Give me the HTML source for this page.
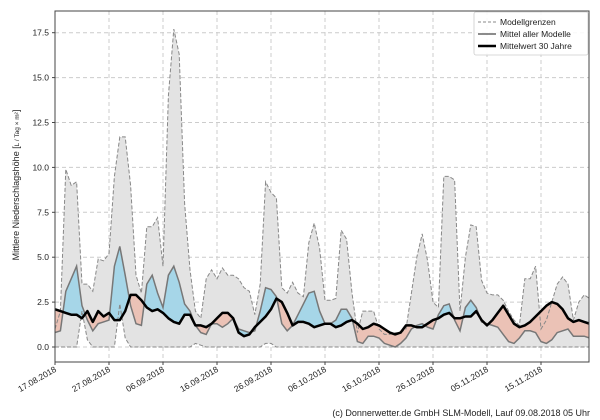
<!DOCTYPE html>
<html><head><meta charset="utf-8">
<style>
html,body{margin:0;padding:0;background:#fff;}
svg{display:block;font-family:"Liberation Sans","DejaVu Sans",sans-serif;}
</style></head>
<body>
<svg id="s" width="600" height="420" viewBox="0 0 600 420" xmlns="http://www.w3.org/2000/svg">
<rect width="600" height="420" fill="#fff"/>
<defs><clipPath id="plot"><rect x="55" y="11" width="534" height="351"/></clipPath></defs>
<g id="grid"></g>
<g id="data" clip-path="url(#plot)"></g>
<g id="axes"></g>
<g transform="translate(19,185) rotate(-90)">
<text x="0" y="0" font-size="9" fill="#222" text-anchor="middle">Mittlere Niederschlagshöhe [<tspan font-size="6.5">L / Tag × m²</tspan>]</text>
</g>
<g>
<rect x="474" y="12" width="114" height="43" fill="#fff" fill-opacity="0.85" stroke="#ccc" stroke-width="0.8" rx="2"/>
<line x1="478" y1="22" x2="496" y2="22" stroke="#888" stroke-dasharray="3,2" stroke-width="1"/>
<text x="500" y="25" font-size="8.5" fill="#222">Modellgrenzen</text>
<line x1="478" y1="34" x2="496" y2="34" stroke="#666" stroke-width="1.5"/>
<text x="500" y="37" font-size="8.5" fill="#222">Mittel aller Modelle</text>
<line x1="478" y1="46" x2="496" y2="46" stroke="#000" stroke-width="2.5"/>
<text x="500" y="49" font-size="8.5" fill="#222">Mittelwert 30 Jahre</text>
</g>
<text x="590" y="416" font-size="9" fill="#222" text-anchor="end">(c) Donnerwetter.de GmbH SLM-Modell, Lauf 09.08.2018 05 Uhr</text>
</svg>
<script>
var up=[1.0,2.0,9.9,9.0,9.2,3.5,3.5,3.1,4.9,4.8,5.2,9.5,11.7,11.7,9.0,4.0,3.0,6.7,6.7,7.2,4.5,14,17.7,16.3,8,4.3,2.0,1.6,3.8,4.3,3.8,4.4,4.0,4.0,3.8,3.3,3.1,1.8,3.5,9.2,8.6,8.3,3.3,3.0,3.6,3.0,2.8,5.8,6.9,5.5,2.6,2.6,2.7,6.5,6.0,3.0,0.8,2.0,2.0,2.0,1.0,0.7,0.7,0.8,0.8,1.0,3,5,6.3,4.8,2.5,2.2,9.5,9.5,9.3,2.0,5.0,6.8,6.7,3.7,3.0,2.9,2.9,2.6,2.0,1.5,1.2,3.8,3.8,4.5,1.0,1.5,2.5,3.5,3.9,3.5,1.5,2.5,2.9,2.7];
var lo=[];for(var i=0;i<100;i++)lo.push(0);
lo[5]=2.0;lo[6]=0.4;lo[12]=2.4;lo[13]=0.5;lo[26]=0.2;lo[27]=0.1;lo[39]=0.2;lo[40]=0.2;
var mm=[0.8,0.9,3.1,3.8,4.5,2.3,1.5,0.9,1.3,1.4,1.5,4.5,5.6,4.0,2.3,1.3,1.2,3.5,4.0,3.0,2.2,4.0,4.5,3.6,2.4,2.0,1.2,0.8,0.7,1.3,1.3,1.1,1.3,1.6,1.0,0.9,0.8,0.9,2.0,3.3,3.2,2.8,1.3,0.9,1.2,1.8,2.4,3.0,3.1,2.0,1.3,1.3,1.5,2.1,2.1,1.6,0.3,0.2,0.6,0.6,0.5,0.2,0.1,0.0,0.2,0.5,1.0,1.2,1.3,1.1,1.0,1.8,2.3,2.4,1.5,0.9,2.2,2.6,2.2,1.4,1.3,1.2,1.1,0.7,0.3,0.2,0.5,0.9,0.9,0.8,0.3,0.2,0.4,0.8,0.9,1.0,0.6,0.6,0.6,0.5];
var bk=[2.1,2.0,1.9,1.8,1.8,1.6,2.0,1.4,2.0,1.7,1.9,1.5,1.5,2.0,2.9,2.9,2.6,2.2,2.0,2.1,1.9,1.6,1.4,1.3,1.8,1.8,1.2,1.2,1.1,1.3,1.6,1.9,1.9,1.6,0.8,0.6,0.7,1.1,1.4,1.7,2.1,2.7,2.5,1.9,1.2,1.4,1.4,1.3,1.1,1.2,1.3,1.3,1.1,1.2,1.4,1.5,1.3,1.0,1.1,1.3,1.2,1.0,0.8,0.7,0.8,1.2,1.2,1.1,1.1,1.3,1.5,1.6,1.8,1.9,1.6,1.6,1.7,1.7,2.0,1.5,1.2,1.5,1.9,2.3,1.8,1.3,1.1,1.2,1.4,1.7,2.0,2.3,2.5,2.4,2.1,1.6,1.4,1.5,1.4,1.3];
function X(i){return 55+5.4*i;}
function Y(v){return 347-17.96*v;}
var N=100;
function pts(a){var s=[];for(var i=0;i<N;i++)s.push(X(i).toFixed(1)+","+Y(a[i]).toFixed(1));return s;}
function rev(a){return a.slice().reverse();}
var NS="http://www.w3.org/2000/svg";
function el(p,t,at){var e=document.createElementNS(NS,t);for(var k in at)e.setAttribute(k,at[k]);p.appendChild(e);return e;}
var g=document.getElementById("grid"),d=document.getElementById("data"),ax=document.getElementById("axes");
var yt=[0,2.5,5,7.5,10,12.5,15,17.5];
yt.forEach(function(v){el(g,"line",{x1:55,x2:589,y1:Y(v),y2:Y(v),stroke:"#ccc","stroke-dasharray":"4,3","stroke-width":1});});
var dates=["17.08.2018","27.08.2018","06.09.2018","16.09.2018","26.09.2018","06.10.2018","16.10.2018","26.10.2018","05.11.2018","15.11.2018"];
dates.forEach(function(t,k){var x=55+54*k;el(g,"line",{x1:x,x2:x,y1:11,y2:362,stroke:"#ccc","stroke-dasharray":"4,3","stroke-width":1});});
el(d,"polygon",{points:pts(up).concat(rev(pts(lo))).join(" "),fill:"#e3e3e3"});
var defs=document.querySelector("defs");
var ca=el(defs,"clipPath",{id:"above"});el(ca,"polygon",{points:pts(bk).join(" ")+" "+X(N-1)+",0 "+X(0)+",0"});
var cb=el(defs,"clipPath",{id:"below"});el(cb,"polygon",{points:pts(bk).join(" ")+" "+X(N-1)+",420 "+X(0)+",420"});
var between=pts(mm).concat(rev(pts(bk))).join(" ");
el(d,"polygon",{points:between,fill:"#a6d6e8","clip-path":"url(#above)"});
el(d,"polygon",{points:between,fill:"#ebc2b6","clip-path":"url(#below)"});
el(d,"polyline",{points:pts(up).join(" "),fill:"none",stroke:"#888","stroke-dasharray":"4,2","stroke-width":1});
el(d,"polyline",{points:pts(lo).join(" "),fill:"none",stroke:"#888","stroke-dasharray":"4,2","stroke-width":1});
el(d,"polyline",{points:pts(mm).join(" "),fill:"none",stroke:"#777","stroke-width":1.5});
el(d,"polyline",{points:pts(bk).join(" "),fill:"none",stroke:"#000","stroke-width":2.5,"stroke-linejoin":"round"});
el(ax,"rect",{x:55,y:11,width:534,height:351,fill:"none",stroke:"#444","stroke-width":1});
yt.forEach(function(v){var y=Y(v);el(ax,"line",{x1:52,x2:55,y1:y,y2:y,stroke:"#444"});var t=el(ax,"text",{x:49,y:y+3,"font-size":8.5,fill:"#222","text-anchor":"end"});t.textContent=v.toFixed(1);});
dates.forEach(function(s,k){var x=55+54*k;el(ax,"line",{x1:x,x2:x,y1:362,y2:365,stroke:"#444"});var t=el(ax,"text",{x:x+2,y:371,"font-size":8.5,fill:"#222","text-anchor":"end",transform:"rotate(-30 "+(x+2)+" 371)"});t.textContent=s;});
</script>
</body></html>
